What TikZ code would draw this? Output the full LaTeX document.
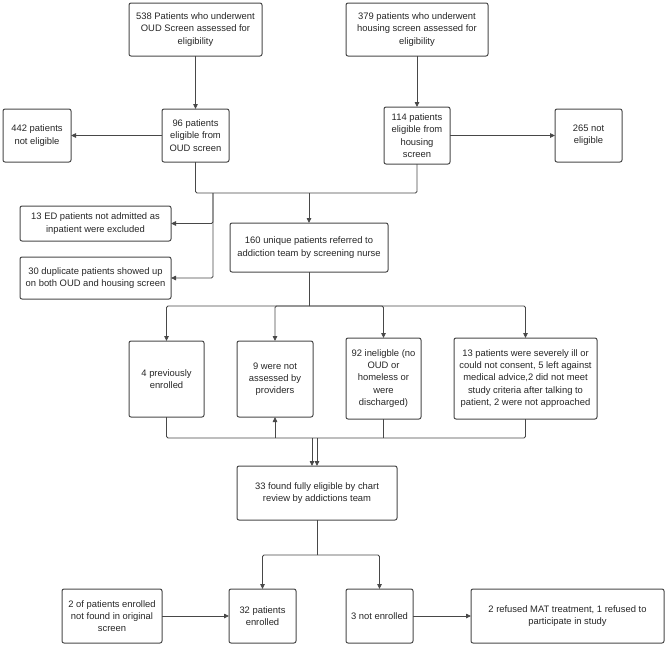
\documentclass[tikz,border=0pt]{standalone}
\usepackage{fontspec}
\setmainfont{Liberation Sans}
\usepackage{tikz}
\usetikzlibrary{positioning,arrows.meta}
\definecolor{linegray}{RGB}{72,72,72}
\newcommand{\boxfont}{\fontsize{9.4}{12.3}\selectfont}

\begin{document}
\begin{tikzpicture}[x=1pt, y=-1pt, >={Triangle[length=5pt,width=4.5pt]},
    box/.style={draw=linegray, line width=1pt, rounded corners=2pt, align=center,
        inner sep=0pt, outer sep=0pt, font=\boxfont, text=black!85},
    link/.style={draw=linegray, line width=0.8pt, rounded corners=1.5pt}]
    \useasboundingbox (0,0) rectangle (667,646);

    \node[box, minimum width=133pt, minimum height=53pt] (oudscr) at (195.5,29.5) {538 Patients who underwent\\OUD Screen assessed for\\eligibility};
    \node[box, minimum width=142pt, minimum height=53pt] (housescr) at (417,29.5) {379 patients who underwent\\housing screen assessed for\\eligibility};

    \node[box, minimum width=68pt, minimum height=53pt] (oudnot) at (37,135.5) {442 patients\\not eligible};
    \node[box, minimum width=67pt, minimum height=53pt] (oudelig) at (195.5,135.5) {96 patients\\eligible from\\OUD screen};
    \node[box, minimum width=66pt, minimum height=57pt] (houseelig) at (417,135.5) {114 patients\\eligible from\\housing\\screen};
    \node[box, minimum width=67pt, minimum height=53pt] (housenot) at (588.5,135.5) {265 not\\eligible};

    \node[box, minimum width=151pt, minimum height=35pt] (edexcl) at (95.5,223.5) {13 ED patients not admitted as\\inpatient were excluded};
    \node[box, minimum width=151pt, minimum height=42pt] (dupl) at (95.5,278) {30 duplicate patients showed up\\on both OUD and housing screen};
    \node[box, minimum width=158pt, minimum height=49pt] (unique) at (309,247.5) {160 unique patients referred to\\addiction team by screening nurse};

    \node[box, minimum width=75pt, minimum height=76pt] (prevenr) at (166.5,379) {4 previously\\enrolled};
    \node[box, minimum width=76pt, minimum height=76pt] (notassess) at (275,379) {9 were not\\assessed by\\providers};
    \node[box, minimum width=75pt, minimum height=81pt] (inelig) at (383.5,378.5) {92 ineligble (no\\OUD or\\homeless or\\were\\discharged)};
    \node[box, minimum width=143pt, minimum height=81pt] (severe) at (525.5,378.5) {13 patients were severely ill or\\could not consent, 5 left against\\medical advice,2 did not meet\\study criteria after talking to\\patient, 2 were not approached};

    \node[box, minimum width=160pt, minimum height=54pt] (fully) at (317,493) {33 found fully eligible by chart\\review by addictions team};

    \node[box, minimum width=100pt, minimum height=54pt] (notfound) at (112,616) {2 of patients enrolled\\not found in original\\screen};
    \node[box, minimum width=67pt, minimum height=54pt] (enrolled) at (262.5,616) {32 patients\\enrolled};
    \node[box, minimum width=67pt, minimum height=54pt] (notenr) at (379.5,616) {3 not enrolled};
    \node[box, minimum width=193pt, minimum height=54pt] (refused) at (567.5,616) {2 refused MAT treatment, 1 refused to\\participate in study};

    \coordinate (merge) at (0,193);
    \coordinate (split) at (213,193);
    \coordinate (fork) at (0,306);
    \coordinate (gather) at (0,438);
    \coordinate (branch) at (0,555);
    \coordinate (intoA) at ([xshift=-5pt]fully.north);

    \draw[link, ->] (oudscr) -- (oudelig);
    \draw[link, ->] (housescr) -- (houseelig);
    \draw[link, ->] (oudelig) -- (oudnot);
    \draw[link, ->] (houseelig) -- (housenot);

    \draw[link] (oudelig.south) |- (merge -| houseelig.south) -- (houseelig.south);
    \draw[link, ->] (split) |- (edexcl.east);
    \draw[link, ->] (split) |- (dupl.east);
    \draw[link, ->] (merge -| unique.north) -- (unique.north);

    \draw[link] (unique.south) -- (unique.south |- fork);
    \foreach \tgt in {prevenr, notassess, inelig, severe}
        \draw[link, ->] (unique.south |- fork) -| (\tgt.north);

    \draw[link] (prevenr.south) |- (gather -| severe.south) -- (severe.south);
    \draw[link, ->] (notassess.south |- gather) -- (notassess.south);
    \draw[link] (inelig.south) -- (inelig.south |- gather);
    \draw[link, ->] (intoA |- gather) -- (intoA);
    \draw[link, ->] (fully.north |- gather) -- (fully.north);

    \draw[link] (fully.south) -- (fully.south |- branch);
    \draw[link, ->] (fully.south |- branch) -| (enrolled.north);
    \draw[link, ->] (fully.south |- branch) -| (notenr.north);
    \draw[link, ->] (notfound) -- (enrolled);
    \draw[link, ->] (notenr) -- (refused);
\end{tikzpicture}
\end{document}
